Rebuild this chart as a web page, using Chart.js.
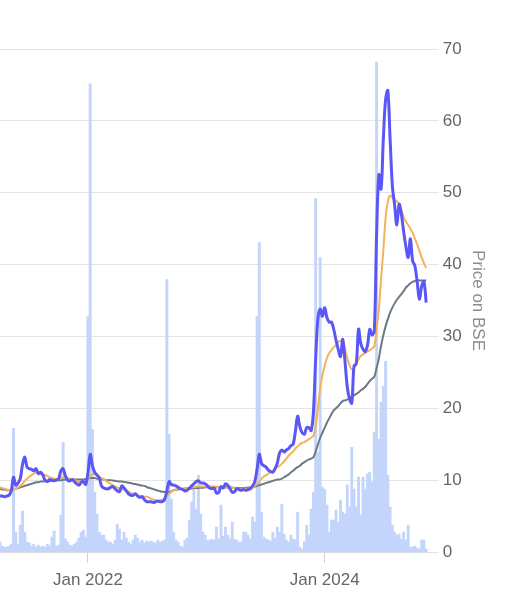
<!DOCTYPE html>
<html>
<head>
<meta charset="utf-8">
<script src="https://cdn.jsdelivr.net/npm/chart.js@4.4.1/dist/chart.umd.min.js"></script>
<style>
  html, body { margin: 0; padding: 0; background: #fff; }
  .chart-box { position: relative; width: 510px; height: 599px; }
</style>
</head>
<body>
<div class="chart-box"><canvas id="priceChart"></canvas></div>
<script>
// weekly series, week 0 = early Apr 2021
const price = [
  7.8, 7.8, 7.7, 7.8, 7.9, 8.5, 10.4, 9.3, 9.6, 10.2,
  12.2, 13.2, 11.8, 11.6, 11.5, 11.3, 11.6, 10.9, 11.1, 10.7,
  10.0, 9.8, 10.1, 10.0, 9.9, 10.0, 10.2, 11.3, 11.6, 10.6,
  10.0, 9.9, 10.1, 9.8, 9.5, 9.3, 9.7, 9.8, 9.4, 11.0,
  13.6, 12.0, 11.1, 10.7, 10.3, 9.2, 8.9, 8.8, 8.8, 9.0,
  9.1, 8.8, 8.5, 8.4, 9.2, 8.9, 8.5, 8.1, 7.9, 7.9,
  8.1, 7.8, 7.6, 7.7, 7.3, 7.0, 7.0, 7.0, 6.9, 7.0,
  7.1, 7.0, 7.0, 7.3, 8.5, 9.8, 9.4, 9.3, 9.2, 9.0,
  8.8, 8.7, 8.5, 8.6, 8.9, 9.2, 9.5, 9.8, 9.9, 9.6,
  9.6, 9.5, 9.2, 8.9, 8.8, 8.9, 8.2, 8.3, 9.1, 8.9,
  9.5, 9.3, 8.8, 8.3, 8.4, 8.8, 8.7, 8.6, 8.7, 8.6,
  8.7, 8.8, 9.2, 9.8, 11.5, 13.6, 12.3, 12.0, 11.8, 11.4,
  11.2, 11.1, 11.6, 12.4, 13.8, 14.2, 13.9, 14.2, 14.4, 14.8,
  15.0, 16.8, 18.9, 17.4, 16.6, 16.4, 17.3, 17.3, 16.9, 19.5,
  27.0, 32.5, 33.8, 32.8, 34.0, 32.6, 32.0, 32.0, 31.0, 29.5,
  28.2, 27.2, 29.6, 26.5, 23.0, 21.3, 20.7, 25.9, 26.2, 31.0,
  29.0, 28.2, 27.9, 28.8, 31.0, 30.2, 30.8, 44.0, 52.5, 50.5,
  57.5, 63.0, 64.2, 57.5, 51.0, 48.3, 45.5, 48.4, 47.0, 44.6,
  42.5, 41.0, 43.6, 40.5, 39.8, 37.6, 35.2, 37.0, 37.6, 34.7
];

const dma50 = [
  9.0, 8.9, 8.8, 8.7, 8.6, 8.6, 8.7, 8.8, 9.0, 9.2,
  9.5, 9.9, 10.2, 10.5, 10.7, 10.9, 11.1, 11.0, 10.9, 10.8,
  10.7, 10.6, 10.4, 10.3, 10.2, 10.2, 10.2, 10.3, 10.4, 10.4,
  10.3, 10.2, 10.1, 10.0, 9.9, 9.8, 9.7, 9.7, 9.8, 10.1,
  10.6, 10.8, 10.9, 10.8, 10.5, 10.3, 10.1, 9.9, 9.7, 9.5,
  9.3, 9.1, 9.0, 8.8, 8.7, 8.7, 8.5, 8.4, 8.2, 8.1,
  8.0, 7.9, 7.8, 7.8, 7.7, 7.7, 7.6, 7.4, 7.3, 7.2,
  7.1, 7.2, 7.3, 7.5, 7.8, 8.1, 8.4, 8.6, 8.7, 8.8,
  8.8, 8.8, 8.9, 8.9, 8.9, 9.0, 9.0, 9.1, 9.1, 9.1,
  9.1, 9.1, 9.1, 9.1, 9.1, 9.1, 9.0, 9.0, 9.0, 9.0,
  9.0, 8.9, 8.9, 8.9, 8.9, 8.8, 8.8, 8.8, 8.8, 8.8,
  8.8, 8.9, 8.9, 9.2, 9.5, 9.8, 10.2, 10.5, 10.7, 10.9,
  11.1, 11.3, 11.6, 11.8, 12.0, 12.3, 12.6, 13.0, 13.4, 13.7,
  14.0, 14.4, 14.7, 15.0, 15.2, 15.3, 15.5, 15.7, 15.9, 16.2,
  17.5, 20.0, 22.8, 24.6, 26.0, 27.0, 27.7, 28.1, 28.5, 28.8,
  29.2, 29.4, 29.2, 28.2, 27.0, 26.0, 25.4, 25.6, 26.2, 26.8,
  27.3, 27.5, 27.7, 27.9, 28.1, 28.3, 28.7, 31.0, 33.8, 38.0,
  42.0, 46.5, 48.8, 49.6, 49.3, 49.0, 48.8, 48.4, 47.6, 46.6,
  46.0, 45.5, 45.0, 44.4, 43.6, 42.8, 41.9, 41.0, 40.2, 39.5
];

const dma200 = [
  8.8, 8.7, 8.7, 8.6, 8.6, 8.6, 8.7, 8.8, 8.9, 9.0,
  9.1, 9.2, 9.3, 9.4, 9.5, 9.6, 9.7, 9.7, 9.8, 9.8,
  9.85, 9.9, 9.9, 9.9, 9.95, 10.0, 10.0, 10.0, 10.05, 10.1,
  10.1, 10.1, 10.1, 10.1, 10.1, 10.1, 10.1, 10.1, 10.15, 10.2,
  10.3, 10.3, 10.3, 10.2, 10.2, 10.1, 10.1, 10.0, 10.0, 10.0,
  9.95, 9.9, 9.85, 9.8, 9.8, 9.75, 9.7, 9.65, 9.6, 9.5,
  9.45, 9.4, 9.3, 9.25, 9.2, 9.05, 8.95, 8.85, 8.75, 8.65,
  8.55, 8.45, 8.4, 8.35, 8.3, 8.35, 8.45, 8.6, 8.65, 8.7,
  8.75, 8.8, 8.8, 8.8, 8.85, 8.85, 8.9, 8.9, 8.9, 8.95,
  8.95, 9.0, 9.0, 9.0, 9.0, 9.0, 9.0, 9.0, 9.0, 9.0,
  9.0, 9.0, 9.0, 8.95, 8.95, 8.9, 8.9, 8.9, 8.9, 8.95,
  8.95, 9.0, 9.0, 9.1, 9.2, 9.3, 9.4, 9.5, 9.6, 9.7,
  9.8, 9.9, 10.0, 10.1, 10.1, 10.2, 10.4, 10.6, 10.8, 11.1,
  11.3, 11.6, 11.8, 12.0, 12.3, 12.5, 12.7, 12.9, 13.0, 13.2,
  14.0, 15.0, 15.9, 16.6, 17.3, 18.0, 18.6, 19.2, 19.7, 20.0,
  20.3, 20.7, 21.0, 21.1, 21.2, 21.4, 21.6, 21.8, 22.0, 22.2,
  22.5, 22.7, 23.0, 23.4, 23.8, 24.1, 24.4, 25.6, 26.9, 28.7,
  30.2, 31.4, 32.4, 33.3, 34.0, 34.6, 35.1, 35.5, 35.9, 36.3,
  36.8, 37.1, 37.4, 37.6, 37.7, 37.8, 37.8, 37.8, 37.8, 37.8
];

// weekly volume, thousand shares
const volume = [
  20, 12, 10, 10, 12, 16, 248, 40, 16, 54,
  82, 40, 20, 18, 12, 16, 10, 14, 10, 12,
  10, 16, 12, 30, 42, 12, 14, 74, 220, 26,
  20, 14, 12, 16, 20, 28, 40, 44, 30, 472,
  938, 246, 120, 76, 40, 34, 34, 24, 20, 20,
  16, 24, 56, 46, 24, 40, 28, 20, 16, 24,
  34, 28, 20, 24, 18, 22, 20, 22, 20, 18,
  24, 20, 22, 24, 546, 236, 106, 40, 24, 20,
  12, 10, 24, 28, 64, 100, 126, 86, 154, 76,
  40, 34, 24, 24, 26, 24, 50, 26, 94, 32,
  50, 34, 26, 60, 26, 24, 20, 20, 40, 40,
  34, 26, 70, 60, 472, 620, 80, 30, 26, 24,
  22, 40, 28, 50, 40, 96, 36, 24, 20, 34,
  26, 24, 80, 10, 6, 20, 54, 34, 86, 120,
  708, 200, 590, 130, 126, 94, 40, 64, 64, 84,
  60, 104, 80, 76, 134, 90, 210, 126, 90, 150,
  74, 150, 126, 156, 160, 140, 240, 982, 226, 300,
  332, 382, 154, 90, 54, 40, 34, 36, 26, 40,
  24, 54, 10, 10, 12, 8, 6, 24, 24, 6
];

// x categories: week numbers, a couple of empty weeks after the last close
const weekCount = 192;
const weeks = Array.from({ length: weekCount }, (_, i) => i);

const tickWeeks = [39, 144];
const tickLabels = ['Jan 2022', 'Jan 2024'];

const axisFont = { family: 'Liberation Sans, Arial, sans-serif', size: 17 };

const ctx = document.getElementById('priceChart').getContext('2d');

new Chart(ctx, {
  data: {
    labels: weeks,
    datasets: [
      {
        type: 'line',
        label: 'Price on BSE',
        data: price,
        yAxisID: 'y',
        borderColor: '#5b57f6',
        borderWidth: 3,
        pointRadius: 0,
        tension: 0.35,
        order: 1
      },
      {
        type: 'line',
        label: '50 DMA',
        data: dma50,
        yAxisID: 'y',
        borderColor: '#f2b35a',
        borderWidth: 2,
        pointRadius: 0,
        tension: 0.35,
        order: 2
      },
      {
        type: 'line',
        label: '200 DMA',
        data: dma200,
        yAxisID: 'y',
        borderColor: '#6b7a84',
        borderWidth: 2,
        pointRadius: 0,
        tension: 0.35,
        order: 3
      },
      {
        type: 'bar',
        label: 'Volume',
        data: volume,
        yAxisID: 'vol',
        backgroundColor: '#c4d5fc',
        borderWidth: 0,
        barPercentage: 1,
        categoryPercentage: 1,
        order: 10
      }
    ]
  },
  options: {
    responsive: true,
    maintainAspectRatio: false,
    animation: false,
    layout: {
      padding: { top: 49, right: 18, bottom: 1, left: 0 }
    },
    plugins: {
      legend: { display: false },
      tooltip: { enabled: false }
    },
    scales: {
      x: {
        type: 'category',
        offset: false,
        ticks: {
          autoSkip: false,
          maxRotation: 0,
          padding: 9,
          color: '#666',
          font: { ...axisFont, lineHeight: 1 },
          // only the January ticks keep a label (and so a tick mark)
          callback: (value, index) => {
            const k = tickWeeks.indexOf(index);
            return k === -1 ? null : tickLabels[k];
          }
        },
        grid: {
          offset: false,
          drawOnChartArea: false,
          drawTicks: true,
          tickLength: 11,
          color: '#d0d0d0'
        },
        border: { display: true, color: '#dcdcdc' }
      },
      y: {
        position: 'right',
        min: 0,
        max: 70,
        ticks: {
          stepSize: 10,
          padding: 4,
          color: '#666',
          font: axisFont
        },
        grid: {
          color: '#e4e4e4',
          tickLength: 8
        },
        border: { display: false },
        title: {
          display: true,
          text: 'Price on BSE',
          color: '#8c8c8c',
          padding: { top: 4, bottom: 2 },
          font: axisFont
        }
      },
      vol: {
        display: false,
        position: 'left',
        min: 0,
        max: 1008
      }
    }
  }
});
</script>
</body>
</html>
